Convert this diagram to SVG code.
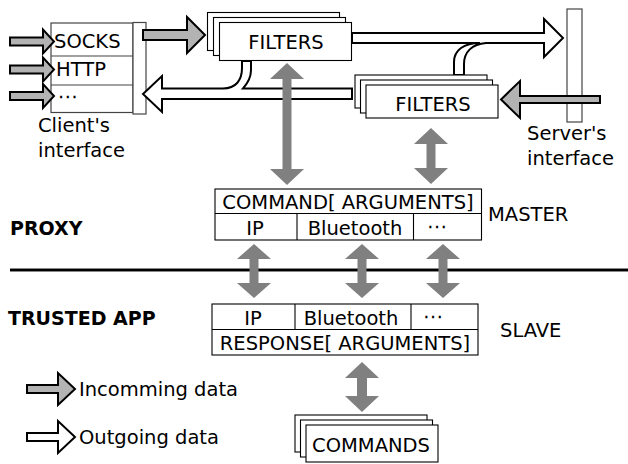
<svg xmlns="http://www.w3.org/2000/svg" width="628" height="464" viewBox="0 0 628 464">
<style>
text{font-family:"DejaVu Sans","Liberation Sans",sans-serif;font-size:19.5px;fill:#000}
.b{font-weight:bold;font-size:19px}
.m{text-anchor:middle}
.box{fill:#fff;stroke:#000;stroke-width:1.1}
.gbox{fill:#fff;stroke:#444;stroke-width:1.2}
.in{fill:#b3b3b3;stroke:#000;stroke-width:2;stroke-linejoin:miter}
.out{fill:#fff;stroke:#000;stroke-width:2;stroke-linejoin:miter}
.dbl{fill:#808080;stroke:none}
</style>
<rect width="628" height="464" fill="#fff"/>
<g id="divider">
<line x1="10" y1="270" x2="628" y2="270" stroke="#888" stroke-width="4"/>
<line x1="10" y1="270" x2="628" y2="270" stroke="#000" stroke-width="2"/>
</g>
<g id="client">
<rect class="gbox" x="51" y="23" width="82" height="89.5"/>
<line x1="51" y1="56" x2="133" y2="56" stroke="#444" stroke-width="1.2"/>
<line x1="51" y1="85" x2="133" y2="85" stroke="#444" stroke-width="1.2"/>
<rect class="gbox" x="133" y="22.5" width="13" height="91.5"/>
<text x="54" y="48">SOCKS</text>
<text x="56" y="76">HTTP</text>
<text x="58" y="103">⋯</text>
<text x="38" y="132">Client's</text>
<text x="38" y="157">interface</text>
</g>
<g id="server">
<rect class="gbox" x="567" y="9" width="15" height="113"/>
<text x="527" y="140">Server's</text>
<text x="527" y="165">interface</text>
</g>
<g id="connectors">
<path class="in" d="M10,37.5 H43 V29.5 L54,41.5 L43,53.5 V45.5 H10 Z"/>
<path class="in" d="M10,65.5 H43 V57.5 L54,69.5 L43,81.5 V73.5 H10 Z"/>
<path class="in" d="M10,92 H43 V84 L54,96 L43,108 V100 H10 Z"/>
<path class="in" d="M143,30 H187 V17 L205,35 L187,53 V40 H143 Z"/>
<path class="in" d="M600,96 H520 V81 L501,99.5 L520,118 V103 H600 Z"/>
<path class="out" d="M352,88.5 H243 C247,84 251,78 251,70 V61 H242 V68 C242,80 236,88.5 223,88.5 H162 V76 L143,94 L162,112 V99 H352 Z"/>
<path class="out" d="M352,33 H544 V19 L563,38 L544,57 V43 H486 C472,44 464,52 464,64 V75 H454 V62 C454,50 464,43 480,43 H352 Z"/>
<path class="dbl" d="M287,63 L304,79 H291.5 V169 H304 L287,185 L270,169 H282.5 V79 H270 Z"/>
<path class="dbl" d="M431,128 L448,144 H435.5 V168 H448 L431,184 L414,168 H426.5 V144 H414 Z"/>
<path class="dbl" d="M254,244 L271,259 H258.5 V283 H271 L254,298 L237,283 H249.5 V259 H237 Z"/>
<path class="dbl" d="M362,244 L379,259 H366.5 V283 H379 L362,298 L345,283 H357.5 V259 H345 Z"/>
<path class="dbl" d="M443,244 L460,259 H447.5 V283 H460 L443,298 L426,283 H438.5 V259 H426 Z"/>
<path class="dbl" d="M362,362 L379,378 H367 V396 H379 L362,412 L345,396 H357 V378 H345 Z"/>
</g>
<g id="filters-top">
<rect class="box" x="207.5" y="12.5" width="132" height="38"/>
<rect class="box" x="213.5" y="17.5" width="132" height="38"/>
<rect class="box" x="219.5" y="22.5" width="132" height="38"/>
<text class="m" x="286" y="49">FILTERS</text>
</g>
<g id="filters-bottom">
<rect class="box" x="355" y="75" width="132" height="33"/>
<rect class="box" x="360.5" y="80" width="132" height="33"/>
<rect class="box" x="366" y="85" width="132" height="33"/>
<text class="m" x="433" y="111">FILTERS</text>
</g>
<g id="master">
<rect class="box" x="215" y="189" width="266.5" height="51"/>
<line x1="215" y1="213.5" x2="481.5" y2="213.5" stroke="#000" stroke-width="1.1"/>
<line x1="297" y1="213.5" x2="297" y2="240" stroke="#000" stroke-width="1.1"/>
<line x1="413.5" y1="213.5" x2="413.5" y2="240" stroke="#000" stroke-width="1.1"/>
<text class="m" x="348" y="209">COMMAND[ ARGUMENTS]</text>
<text class="m" x="255" y="235">IP</text>
<text class="m" x="355" y="235">Bluetooth</text>
<text class="m" x="437" y="233">⋯</text>
<text x="488" y="221">MASTER</text>
</g>
<g id="slave">
<rect class="box" x="212" y="304" width="266" height="51"/>
<line x1="212" y1="329.5" x2="478" y2="329.5" stroke="#000" stroke-width="1.1"/>
<line x1="295" y1="304" x2="295" y2="329.5" stroke="#000" stroke-width="1.1"/>
<line x1="411" y1="304" x2="411" y2="329.5" stroke="#000" stroke-width="1.1"/>
<text class="m" x="253" y="325">IP</text>
<text class="m" x="351" y="325">Bluetooth</text>
<text class="m" x="433" y="323">⋯</text>
<text class="m" x="345" y="350">RESPONSE[ ARGUMENTS]</text>
<text x="500" y="337">SLAVE</text>
</g>
<g id="labels">
<text class="b" x="10" y="235">PROXY</text>
<text class="b" x="8" y="325">TRUSTED APP</text>
</g>
<g id="commands">
<rect class="box" x="295" y="415" width="132" height="37"/>
<rect class="box" x="300.5" y="420" width="132" height="37"/>
<rect class="box" x="306" y="425" width="132" height="37"/>
<text class="m" x="371" y="452">COMMANDS</text>
</g>
<g id="legend">
<path class="in" d="M27,385 H58 V373 L75,389 L58,405 V393 H27 Z"/>
<text x="79" y="396">Incomming data</text>
<path class="out" d="M27,433 H58 V421 L75,437 L58,453 V441 H27 Z"/>
<text x="79" y="444">Outgoing data</text>
</g>
</svg>
